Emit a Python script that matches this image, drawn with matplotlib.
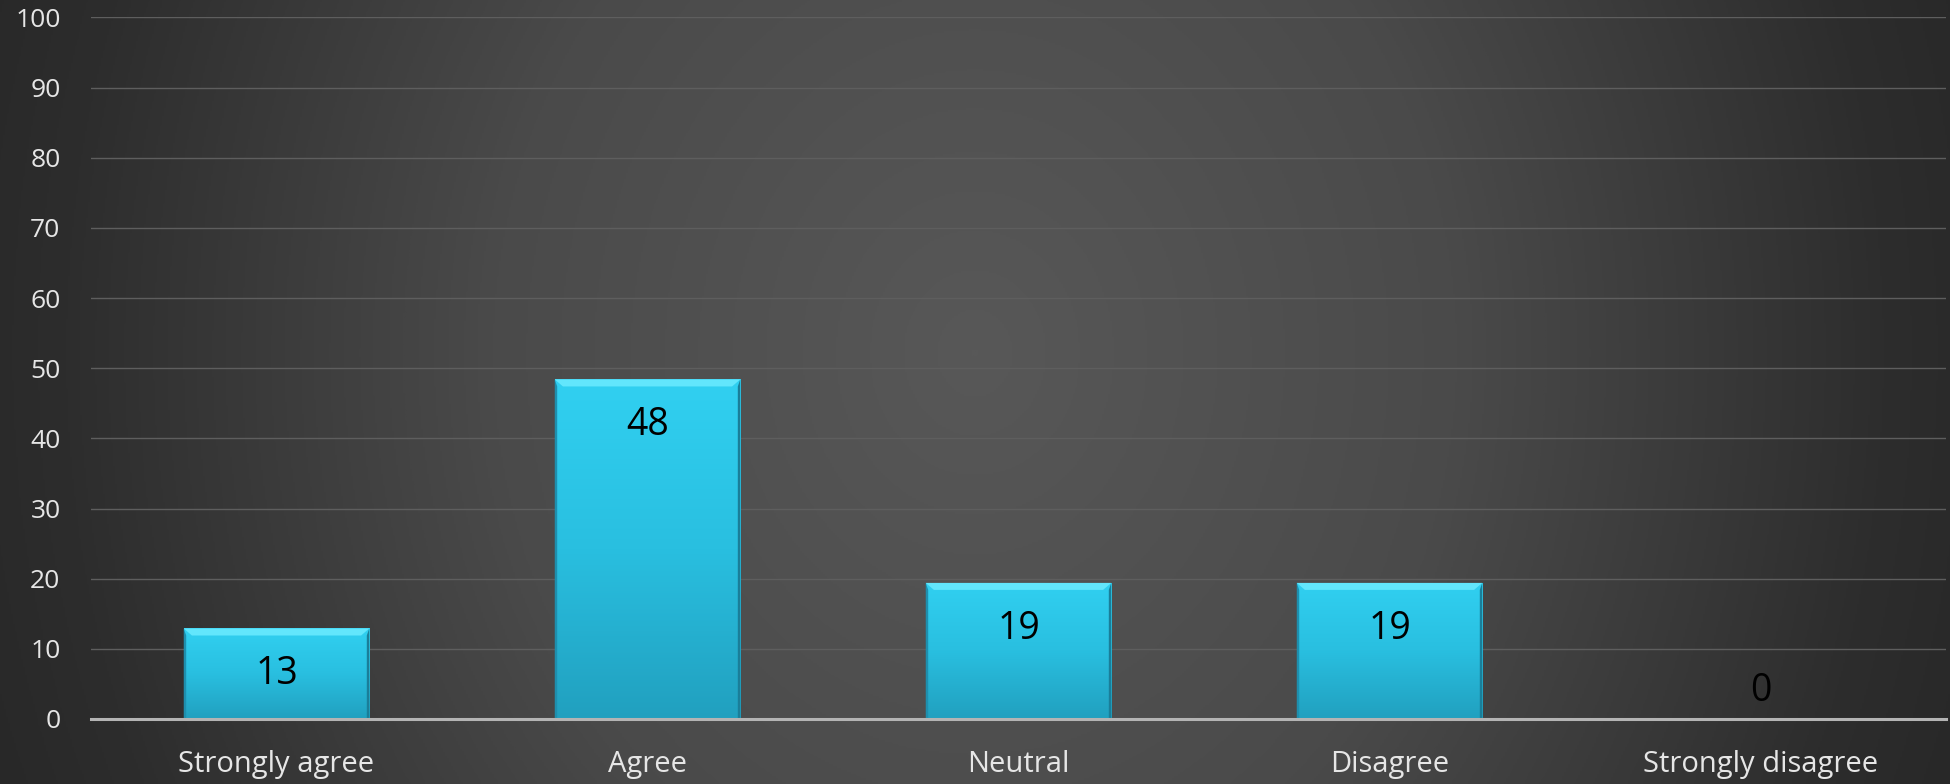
import numpy as np
import matplotlib
matplotlib.use("Agg")
import matplotlib.pyplot as plt
from matplotlib.colors import LinearSegmentedColormap
from matplotlib.patches import Polygon

categories = ["Strongly agree", "Agree", "Neutral", "Disagree", "Strongly disagree"]
values = [12.9, 48.4, 19.4, 19.4, 0.0]
labels = ["13", "48", "19", "19", "0"]
yticks = [0, 10, 20, 30, 40, 50, 60, 70, 80, 90, 100]

plt.rcParams['font.family'] = ['Open Sans', 'DejaVu Sans']

W, H, DPI = 1950, 784, 100
fig = plt.figure(figsize=(W / DPI, H / DPI), dpi=DPI)

# radial background
bg = fig.add_axes([0, 0, 1, 1], zorder=-10)
yy, xx = np.mgrid[0:1:400j, 0:1:1000j]
r = np.sqrt(((xx - 0.5) / 0.55) ** 2 + ((yy - 0.55) / 1.6) ** 2)
r = np.clip(r, 0, 1)
bgcmap = LinearSegmentedColormap.from_list(
    "bg", [(0, "#585858"), (0.45, "#4a4a4a"), (0.7, "#383838"), (0.85, "#2d2d2d"), (1, "#272727")], N=256)
bg.imshow(r, cmap=bgcmap, aspect="auto", extent=[0, 1, 0, 1], origin="lower", vmin=0, vmax=1)
bg.set_axis_off()

ax = fig.add_axes([91 / W, 1 - 719 / H, (1946 - 91) / W, (719 - 17.4) / H])
ax.set_facecolor("none")
x = np.arange(len(categories))
bars = ax.bar(x, values, width=0.5, color="#2bc3e4", edgecolor="none", zorder=3)

cyan = LinearSegmentedColormap.from_list("cy", ["#21a0bf", "#29bfe0", "#31d0f1"], N=256)
grad = np.linspace(0, 1, 256).reshape(-1, 1)
for b in bars:
    bx, by = b.get_x(), b.get_y()
    bw, bh = b.get_width(), b.get_height()
    if bh <= 0:
        continue
    im = ax.imshow(grad, cmap=cyan, aspect="auto", origin="lower",
                   extent=[bx, bx + bw, by, by + bh], zorder=3.5)
    im.set_clip_path(b)
    dx, dy = 0.022, 1.0
    top = by + bh
    ax.add_patch(Polygon([[bx, top], [bx + bw, top], [bx + bw - dx, top - dy], [bx + dx, top - dy]],
                         closed=True, facecolor="#62e6fc", edgecolor="none", zorder=4))
    ax.add_patch(Polygon([[bx, top], [bx + dx * 0.3, top - dy], [bx + dx * 0.3, by], [bx, by]],
                         closed=True, facecolor="#1e8fae", edgecolor="none", zorder=4))
    ax.add_patch(Polygon([[bx + bw, top], [bx + bw - dx * 0.3, top - dy], [bx + bw - dx * 0.3, by], [bx + bw, by]],
                         closed=True, facecolor="#1a7e99", edgecolor="none", zorder=4))

for xi, v, lab in zip(x, values, labels):
    if v > 0:
        ax.annotate(lab, (xi, v), xytext=(0, -33), textcoords="offset points",
                    ha="center", va="center", fontsize=27, color="black", zorder=5)
    else:
        ax.annotate(lab, (xi, v), xytext=(0, 20), textcoords="offset points",
                    ha="center", va="center", fontsize=27, color="black", zorder=5)

ax.set_xlim(-0.5, len(categories) - 0.5)
ax.set_ylim(0, 100)
ax.set_yticks(yticks)
ax.set_xticks(x)
ax.set_xticklabels(categories)
ax.tick_params(axis="y", length=0, pad=22, labelsize=19, labelcolor="#e6e6e6")
ax.tick_params(axis="x", length=0, pad=22, labelsize=21, labelcolor="#e6e6e6")
ax.grid(axis="y", color="#5e5e5e", lw=1.0, zorder=0)
ax.set_axisbelow(True)
for s in ["top", "right", "left"]:
    ax.spines[s].set_visible(False)
ax.spines["bottom"].set_color("#b4b4b4")
ax.spines["bottom"].set_linewidth(2.2)
ax.spines["bottom"].set_zorder(6)

fig.savefig("out.png", dpi=DPI)
